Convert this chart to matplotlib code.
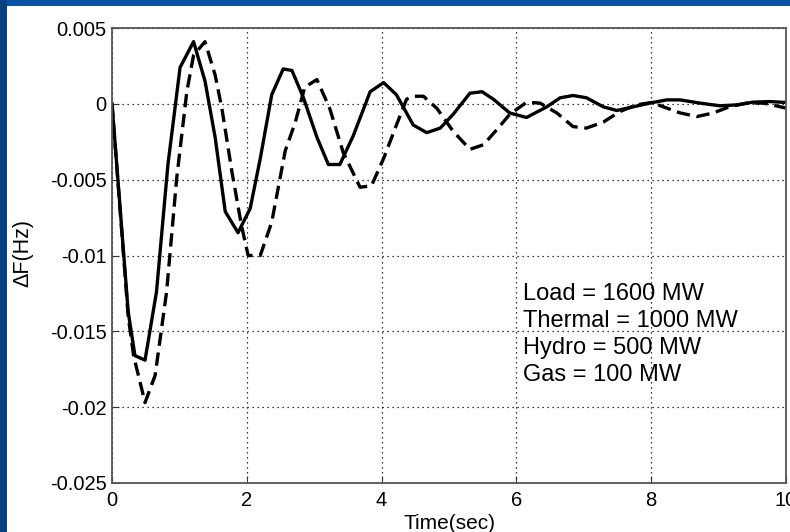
import matplotlib.pyplot as plt
from matplotlib.patches import Rectangle

# solid curve (time in s, frequency deviation in Hz)
t_solid = [0, 0.24, 0.34, 0.49, 0.66, 0.83, 1.01, 1.21, 1.38, 1.53, 1.68, 1.87,
           2.05, 2.2, 2.37, 2.54, 2.67, 2.84, 3.04, 3.21, 3.38, 3.58, 3.83, 4.03,
           4.22, 4.47, 4.67, 4.87, 5.06, 5.31, 5.49, 5.66, 5.9, 6.15, 6.45, 6.65,
           6.84, 7.04, 7.29, 7.49, 7.73, 7.98, 8.23, 8.43, 8.72, 9.02, 9.27, 9.51,
           9.76, 10.0]
f_solid = [0, -0.0137, -0.0166, -0.0169, -0.0124, -0.0040, 0.0024, 0.0041, 0.0015,
           -0.0022, -0.0071, -0.0085, -0.0069, -0.0036, 0.0006, 0.0023, 0.0022,
           0.0004, -0.0022, -0.0040, -0.0040, -0.0021, 0.0008, 0.0014, 0.0006,
           -0.0014, -0.0019, -0.0016, -0.0007, 0.0007, 0.0008, 0.0003, -0.0006,
           -0.0009, -0.0002, 0.0004, 0.00055, 0.0004, -0.0002, -0.00044, -0.0002,
           0.00005, 0.00026, 0.00026, 0.00005, -0.00013, -0.00007, 0.00011,
           0.00015, 0.00009]

# dashed curve
t_dash = [0, 0.24, 0.32, 0.49, 0.64, 0.81, 0.96, 1.11, 1.21, 1.38, 1.53, 1.63,
          1.78, 1.92, 2.02, 2.2, 2.37, 2.57, 2.72, 2.86, 3.04, 3.23, 3.43, 3.68,
          3.85, 4.03, 4.22, 4.37, 4.47, 4.62, 4.82, 5.06, 5.31, 5.51, 5.71, 5.9,
          6.15, 6.35, 6.6, 6.84, 7.04, 7.29, 7.54, 7.78, 8.01, 8.23, 8.43, 8.68,
          8.92, 9.17, 9.42, 9.67, 10.0]
f_dash = [0, -0.0140, -0.0166, -0.0197, -0.0179, -0.0124, -0.0049, 0.0008, 0.0032,
          0.0041, 0.0019, -0.0003, -0.0045, -0.0080, -0.0100, -0.0100, -0.0078,
          -0.0031, -0.0012, 0.0011, 0.0016, -0.0003, -0.0032, -0.0055, -0.0054,
          -0.0036, -0.0014, 0.0003, 0.0005, 0.0005, -0.0003, -0.0018, -0.0030,
          -0.0027, -0.0017, -0.0007, 0.0001, 0.00005, -0.0006, -0.0015, -0.0016,
          -0.0012, -0.0005, -0.00007, 0.00009, -0.00028, -0.0006, -0.00084,
          -0.0006, -0.00018, 0.00005, 0.00005, -0.00028]

x_ticks = [0, 2, 4, 6, 8, 10]
y_ticks = [-0.025, -0.02, -0.015, -0.01, -0.005, 0, 0.005]
y_labels = ['-0.025', '-0.02', '-0.015', '-0.01', '-0.005', '0', '0.005']
notes = ['Load = 1600 MW', 'Thermal = 1000 MW', 'Hydro = 500 MW', 'Gas = 100 MW']

plt.rcParams['font.family'] = ['Liberation Sans', 'DejaVu Sans']

fig = plt.figure(figsize=(7.9, 5.32), dpi=100)
fig.patch.set_facecolor('#0a52a6')
# slide background: dark strip on the left, white panel
fig.patches.append(Rectangle((0, 0), 7 / 790, 1, transform=fig.transFigure,
                             facecolor='#06417f', edgecolor='none', zorder=-2))
fig.patches.append(Rectangle((7 / 790, 0), 1, 1 - 6 / 532, transform=fig.transFigure,
                             facecolor='white', edgecolor='none', zorder=-2))

ax = fig.add_axes([112 / 790, 1 - 483 / 532, 674 / 790, 455 / 532])
ax.plot(t_solid, f_solid, color='black', lw=2.4, solid_joinstyle='round')
ax.plot(t_dash, f_dash, color='black', lw=2.4, dashes=(4, 2))

ax.set_xlim(0, 10)
ax.set_ylim(-0.025, 0.005)
ax.set_xticks(x_ticks)
ax.set_yticks(y_ticks)
ax.set_yticklabels(y_labels)
ax.tick_params(direction='in', length=5, labelsize=14.5, pad=4, color='#333333')
ax.tick_params(axis='x', pad=6)
ax.grid(True, color='black', linestyle=(0, (1, 3)), lw=0.9)
for s in ax.spines.values():
    s.set_color('#555555')
    s.set_linewidth(1.3)

ax.set_xlabel('Time(sec)', fontsize=15)
ax.xaxis.set_label_coords(0.5, -0.068)
ax.set_ylabel('\u0394F(Hz)', fontsize=15.5)
ax.yaxis.set_label_coords(-0.117, 0.505)

for i, line in enumerate(notes):
    ax.text(6.1, -0.01255 - i * 0.00177, line, fontsize=17, va='center', ha='left')

fig.savefig('out.png', dpi=100, facecolor=fig.get_facecolor())
